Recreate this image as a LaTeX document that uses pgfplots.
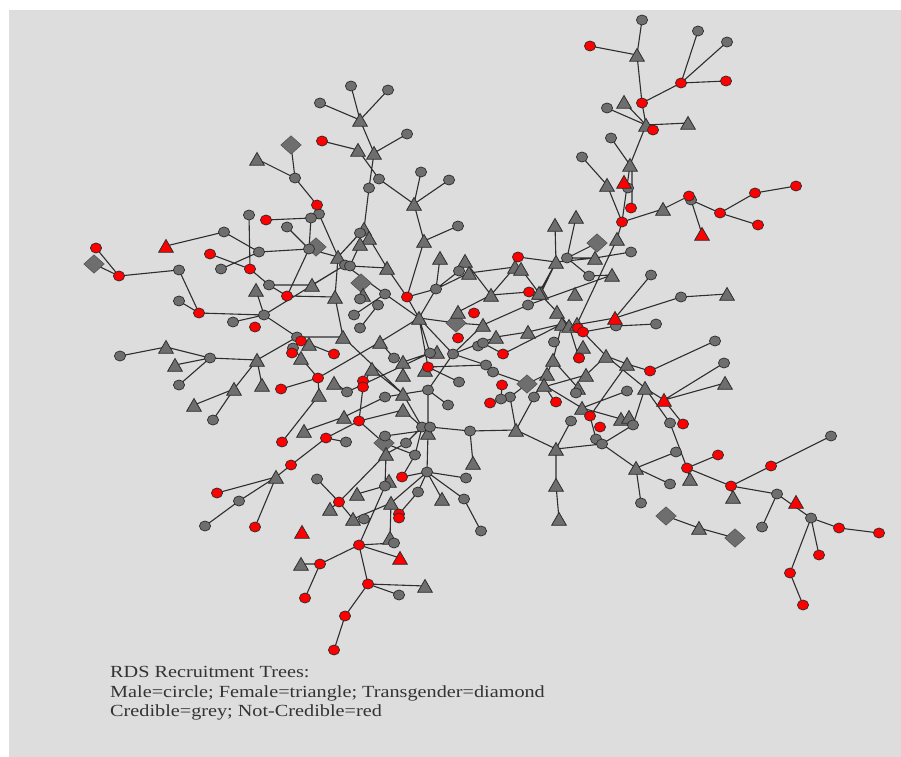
\documentclass[border=0pt]{standalone}
\usepackage{pgfplots}
\pgfplotsset{compat=1.18}
\usepackage{fontspec}
\setmainfont[FakeStretch=1.19]{Liberation Serif}
\definecolor{bgc}{HTML}{DDDDDD}
\definecolor{nodeg}{HTML}{6E6E6E}
\definecolor{edgec}{HTML}{2E2E2E}
\begin{document}
\begin{tikzpicture}
\begin{axis}[scale only axis, width=901bp, height=757bp, xmin=0, xmax=901, ymin=0, ymax=757,
  y dir=reverse, hide axis, clip=true, unbounded coords=jump]
\fill[white] (axis cs:0,0) rectangle (axis cs:901,757);
\fill[bgc] (axis cs:9,10) rectangle (axis cs:901,757);
% edges
\addplot[edgec, line width=1.1bp, no marks] coordinates {
(642,20)(637,55)(nan,nan) (590,46)(637,55)(nan,nan) (637,55)(642,103)(nan,nan) (642,103)(681,83)(nan,nan)
(681,83)(698,31)(nan,nan) (681,83)(727,42)(nan,nan) (681,83)(726,81)(nan,nan) (642,103)(646,125)(nan,nan)
(646,125)(624,102)(nan,nan) (646,125)(607,108)(nan,nan) (646,125)(688,123)(nan,nan) (646,125)(630,165)(nan,nan)
(630,165)(611,138)(nan,nan) (582,157)(607,185)(nan,nan) (607,185)(622,222)(nan,nan) (630,165)(622,222)(nan,nan)
(632,165)(632,208)(nan,nan) (622,222)(663,209)(nan,nan) (663,209)(689,196)(nan,nan) (691,200)(702,234)(nan,nan)
(691,200)(720,213)(nan,nan) (720,213)(755,193)(nan,nan) (755,193)(796,186)(nan,nan) (720,213)(758,225)(nan,nan)
(622,222)(617,239)(nan,nan) (617,239)(577,324)(nan,nan)
% upper left
(291,145)(295,178)(nan,nan) (257,159)(295,178)(nan,nan) (295,178)(317,205)(nan,nan) (317,205)(319,214)(nan,nan)
(266,220)(311,218)(nan,nan) (311,218)(309,249)(nan,nan) (319,214)(338,257)(nan,nan) (287,227)(309,249)(nan,nan)
(224,232)(166,246)(nan,nan) (224,232)(259,252)(nan,nan) (249,215)(250,269)(nan,nan) (259,252)(309,249)(nan,nan)
(309,249)(287,296)(nan,nan) (309,249)(338,257)(nan,nan) (210,254)(250,269)(nan,nan) (221,269)(259,252)(nan,nan)
(119,276)(96,248)(nan,nan) (119,276)(94,264)(nan,nan) (119,276)(179,270)(nan,nan) (179,270)(199,313)(nan,nan)
(250,269)(269,285)(nan,nan) (269,285)(287,296)(nan,nan) (269,285)(312,285)(nan,nan) (287,296)(335,297)(nan,nan)
(264,315)(345,265)(nan,nan) (312,285)(345,265)(nan,nan) (338,257)(335,297)(nan,nan) (179,301)(199,313)(nan,nan)
% top centre
(360,120)(351,86)(nan,nan) (360,120)(388,90)(nan,nan) (360,120)(320,103)(nan,nan) (360,120)(374,153)(nan,nan)
(322,141)(358,150)(nan,nan) (374,153)(407,134)(nan,nan) (374,153)(369,188)(nan,nan) (358,150)(379,179)(nan,nan)
(379,179)(414,204)(nan,nan) (414,204)(421,172)(nan,nan) (414,204)(449,180)(nan,nan) (414,204)(424,241)(nan,nan)
(424,241)(458,226)(nan,nan) (424,241)(407,297)(nan,nan) (369,188)(364,229)(nan,nan) (360,233)(338,257)(nan,nan)
(364,229)(338,257)(nan,nan) (360,244)(350,266)(nan,nan) (369,238)(387,268)(nan,nan) (350,266)(387,268)(nan,nan)
(387,268)(407,297)(nan,nan) (345,265)(385,294)(nan,nan) (385,294)(419,318)(nan,nan) (407,297)(436,289)(nan,nan)
(436,289)(459,271)(nan,nan) (436,289)(469,273)(nan,nan) (440,258)(436,289)(nan,nan) (469,273)(515,267)(nan,nan)
(465,261)(491,295)(nan,nan) (491,295)(515,267)(nan,nan) (491,295)(529,292)(nan,nan) (529,292)(539,293)(nan,nan)
(521,269)(539,293)(nan,nan) (539,293)(556,262)(nan,nan) (518,257)(556,262)(nan,nan) (555,225)(556,262)(nan,nan)
(576,217)(567,258)(nan,nan) (458,312)(491,295)(nan,nan) (407,297)(419,318)(nan,nan) (436,289)(419,318)(nan,nan)
(419,318)(456,323)(nan,nan) (456,323)(483,325)(nan,nan) (419,318)(380,342)(nan,nan) (419,318)(430,353)(nan,nan)
(419,318)(453,354)(nan,nan) (483,325)(453,354)(nan,nan) (483,325)(528,305)(nan,nan) (528,305)(612,275)(nan,nan)
(496,337)(528,332)(nan,nan) (528,332)(562,324)(nan,nan) (496,337)(453,354)(nan,nan) (503,354)(483,343)(nan,nan)
(503,354)(562,324)(nan,nan) (453,354)(486,365)(nan,nan) (486,365)(493,372)(nan,nan) (493,372)(527,384)(nan,nan)
(335,297)(343,337)(nan,nan) (343,337)(403,394)(nan,nan) (380,342)(318,378)(nan,nan) (380,342)(394,358)(nan,nan)
(354,315)(385,294)(nan,nan) (360,328)(378,305)(nan,nan) (419,318)(428,367)(nan,nan) (428,367)(486,365)(nan,nan)
(428,367)(459,382)(nan,nan) (453,354)(428,390)(nan,nan) (428,390)(403,394)(nan,nan) (428,390)(448,405)(nan,nan)
(428,390)(428,433)(nan,nan) (403,394)(385,397)(nan,nan) (403,394)(422,427)(nan,nan) (403,410)(422,427)(nan,nan) (363,387)(359,421)(nan,nan)
(359,421)(403,410)(nan,nan) (344,417)(385,397)(nan,nan) (403,362)(430,353)(nan,nan) (347,392)(430,353)(nan,nan)
(335,383)(347,392)(nan,nan) (372,369)(363,384)(nan,nan) (372,369)(403,394)(nan,nan) (403,362)(403,375)(nan,nan)
(510,397)(527,384)(nan,nan) (510,397)(516,430)(nan,nan) (534,397)(516,430)(nan,nan) (501,399)(490,403)(nan,nan)
(501,399)(502,385)(nan,nan) (343,337)(297,337)(nan,nan) (534,397)(547,374)(nan,nan) (547,374)(527,384)(nan,nan)
% left
(120,356)(166,347)(nan,nan) (166,347)(210,358)(nan,nan) (175,365)(210,358)(nan,nan) (179,385)(210,358)(nan,nan)
(210,358)(257,360)(nan,nan) (257,360)(234,389)(nan,nan) (257,360)(262,385)(nan,nan) (257,360)(297,337)(nan,nan)
(234,389)(194,405)(nan,nan) (234,389)(213,420)(nan,nan) (199,313)(264,315)(nan,nan) (233,322)(264,315)(nan,nan)
(264,315)(256,290)(nan,nan) (264,315)(297,337)(nan,nan) (297,337)(309,344)(nan,nan) (293,348)(301,358)(nan,nan)
(301,358)(318,378)(nan,nan) (309,344)(334,354)(nan,nan) (318,378)(319,395)(nan,nan) (281,389)(318,378)(nan,nan)
(319,395)(282,442)(nan,nan) (304,431)(344,417)(nan,nan) (326,438)(291,465)(nan,nan) (291,465)(276,477)(nan,nan)
(326,438)(359,421)(nan,nan) (326,438)(346,442)(nan,nan)
% lower centre
(276,477)(217,493)(nan,nan) (276,477)(239,501)(nan,nan) (239,501)(205,526)(nan,nan) (276,477)(255,527)(nan,nan)
(359,421)(384,443)(nan,nan) (384,443)(386,454)(nan,nan) (385,436)(428,430)(nan,nan) (386,454)(385,486)(nan,nan)
(386,454)(339,502)(nan,nan) (317,479)(339,502)(nan,nan) (339,502)(353,519)(nan,nan) (339,502)(330,509)(nan,nan)
(357,494)(385,486)(nan,nan) (385,486)(359,545)(nan,nan) (353,519)(391,503)(nan,nan) (391,503)(427,472)(nan,nan)
(391,503)(390,538)(nan,nan) (402,477)(427,472)(nan,nan) (427,472)(418,492)(nan,nan) (418,492)(399,514)(nan,nan)
(427,472)(442,499)(nan,nan) (427,472)(466,478)(nan,nan) (427,472)(464,499)(nan,nan) (464,499)(481,531)(nan,nan)
(427,472)(428,433)(nan,nan) (415,455)(402,477)(nan,nan) (415,455)(422,427)(nan,nan) (406,443)(422,427)(nan,nan)
(406,443)(386,454)(nan,nan) (384,443)(415,455)(nan,nan) (430,427)(470,431)(nan,nan) (470,431)(516,430)(nan,nan)
(470,431)(473,463)(nan,nan) (359,545)(394,543)(nan,nan) (359,545)(400,558)(nan,nan) (359,545)(320,564)(nan,nan)
(320,564)(301,564)(nan,nan) (320,564)(305,598)(nan,nan) (359,545)(368,584)(nan,nan) (368,584)(425,586)(nan,nan)
(368,584)(399,595)(nan,nan) (368,584)(345,616)(nan,nan) (345,616)(334,650)(nan,nan)
% right
(567,258)(597,243)(nan,nan) (567,258)(595,258)(nan,nan) (595,258)(631,252)(nan,nan) (556,262)(595,258)(nan,nan)
(567,258)(589,276)(nan,nan) (589,276)(612,275)(nan,nan) (556,262)(541,293)(nan,nan) (539,293)(557,312)(nan,nan)
(557,312)(569,326)(nan,nan) (569,326)(615,318)(nan,nan) (583,332)(616,326)(nan,nan) (615,318)(651,275)(nan,nan)
(615,318)(681,297)(nan,nan) (681,297)(727,294)(nan,nan) (616,326)(656,324)(nan,nan) (583,332)(606,356)(nan,nan)
(606,356)(627,364)(nan,nan) (627,364)(650,371)(nan,nan) (650,371)(715,341)(nan,nan) (606,356)(586,375)(nan,nan)
(627,364)(590,416)(nan,nan) (606,356)(645,388)(nan,nan) (645,388)(664,400)(nan,nan) (664,400)(724,363)(nan,nan)
(664,400)(725,383)(nan,nan) (664,400)(683,424)(nan,nan) (645,388)(633,425)(nan,nan) (645,388)(670,423)(nan,nan)
(670,423)(687,468)(nan,nan) (569,326)(579,358)(nan,nan) (553,360)(578,388)(nan,nan) (586,375)(547,386)(nan,nan)
(562,324)(553,360)(nan,nan) (553,360)(547,374)(nan,nan) (547,374)(544,385)(nan,nan) (555,402)(544,385)(nan,nan)
(544,385)(582,408)(nan,nan) (582,408)(627,391)(nan,nan) (582,408)(621,419)(nan,nan) (582,408)(590,416)(nan,nan)
(590,416)(596,439)(nan,nan) (633,425)(602,444)(nan,nan) (571,421)(556,449)(nan,nan) (516,430)(556,449)(nan,nan)
(556,449)(602,444)(nan,nan) (556,449)(556,485)(nan,nan) (556,485)(559,519)(nan,nan) (602,444)(636,468)(nan,nan)
(636,468)(676,452)(nan,nan) (636,468)(670,484)(nan,nan) (636,468)(641,503)(nan,nan) (687,468)(718,455)(nan,nan)
(687,468)(731,486)(nan,nan) (731,486)(771,466)(nan,nan) (771,466)(831,436)(nan,nan) (731,486)(777,494)(nan,nan)
(731,486)(733,497)(nan,nan) (687,468)(690,479)(nan,nan) (777,494)(811,518)(nan,nan) (777,494)(762,527)(nan,nan)
(811,518)(839,528)(nan,nan) (839,528)(879,533)(nan,nan) (811,518)(819,555)(nan,nan) (811,518)(790,573)(nan,nan)
(790,573)(803,605)(nan,nan) (666,516)(699,528)(nan,nan) (699,528)(735,538)(nan,nan)
};
% grey diamonds
\addplot[only marks, mark=square*, mark size=7.2bp, mark options={fill=nodeg, draw=nodeg!70!black, line width=0.5bp, yscale=.9, rotate=45}] coordinates {
(291,145)(94,264)(316,247)(597,243)(361,283)(456,323)(527,384)(384,443)(666,516)(735,538)};
% grey triangles
\addplot[only marks, mark=triangle*, mark size=8.5bp, mark options={fill=nodeg, draw=edgec, line width=0.8bp, yshift=-2bp}] coordinates {
(637,55)(624,102)(646,125)(688,123)(630,165)(607,185)(663,209)(576,217)(555,225)(617,239)(556,262)(595,258)(612,275)(727,294)(575,294)(541,293)(557,312)(562,324)(569,326)(577,324)(583,347)(606,356)(627,364)(725,383)(586,375)(553,360)(547,374)(544,385)(578,388)(645,388)(582,408)(621,419)(629,417)(556,449)(556,485)(559,519)(636,468)(690,479)(733,497)(699,528)(516,430)(473,463)(360,120)(358,150)(374,153)(414,204)(424,241)(257,159)(364,229)(369,238)(360,244)(338,257)(387,268)(440,258)(465,261)(469,273)(491,295)(515,267)(521,269)(539,293)(312,285)(256,290)(335,297)(363,295)(458,312)(419,318)(483,325)(528,332)(496,337)(343,337)(380,342)(437,352)(309,344)(301,358)(403,362)(334,383)(319,395)(372,369)(425,370)(403,375)(403,394)(403,410)(344,417)(304,431)(428,433)(386,454)(276,477)(389,481)(166,347)(175,365)(257,360)(262,385)(234,389)(194,405)(357,494)(442,499)(330,509)(391,503)(353,519)(390,538)(301,564)(425,586)};
% grey circles
\addplot[only marks, mark=*, mark size=5.6bp, mark options={fill=nodeg, draw=edgec, line width=0.7bp, yscale=.9}] coordinates {
(642,20)(698,31)(727,42)(607,108)(611,138)(582,157)(628,188)(691,200)(631,252)(651,275)(681,297)(616,326)(656,324)(715,341)(724,363)(589,276)(567,258)(579,358)(554,342)(576,393)(627,391)(571,421)(633,425)(670,423)(596,439)(602,444)(676,452)(670,484)(641,503)(831,436)(777,494)(811,518)(762,527)(528,305)(351,86)(388,90)(320,103)(407,134)(379,179)(369,188)(421,172)(449,180)(458,226)(295,178)(319,214)(311,218)(249,215)(287,227)(224,232)(179,270)(221,269)(259,252)(309,249)(345,265)(350,266)(360,233)(459,271)(436,289)(269,285)(179,301)(233,322)(264,315)(297,337)(293,348)(120,356)(210,358)(179,385)(213,420)(385,294)(360,299)(378,305)(354,315)(360,328)(478,346)(483,343)(453,354)(430,353)(394,358)(486,365)(493,372)(459,382)(347,392)(385,397)(428,390)(510,397)(501,399)(534,397)(448,405)(422,427)(430,427)(470,431)(385,436)(346,442)(406,443)(415,455)(427,472)(466,478)(317,479)(385,486)(418,492)(464,499)(239,501)(364,519)(481,531)(205,526)(394,543)(399,595)};
% red triangles
\addplot[only marks, mark=triangle*, mark size=8.5bp, mark options={fill=red, draw=edgec, line width=0.8bp, yshift=-2bp}] coordinates {
(624,182)(702,234)(166,246)(615,318)(664,400)(796,502)(302,532)(400,558)};
% red circles
\addplot[only marks, mark=*, mark size=5.6bp, mark options={fill=red, draw=edgec, line width=0.7bp, yscale=.9}] coordinates {
(590,46)(726,81)(681,83)(642,103)(653,130)(631,208)(622,222)(689,196)(720,213)(755,193)(796,186)(758,225)(322,141)(317,205)(266,220)(96,248)(119,276)(210,254)(250,269)(287,296)(199,313)(255,327)(301,341)(292,353)(334,354)(318,378)(281,389)(282,442)(326,438)(291,465)(217,493)(255,527)(339,502)(407,297)(518,257)(529,292)(474,313)(458,338)(503,354)(428,367)(502,385)(363,381)(363,387)(359,421)(490,403)(556,402)(578,328)(583,332)(579,358)(650,371)(590,416)(600,427)(683,424)(718,455)(687,468)(771,466)(731,486)(839,528)(879,533)(819,555)(790,573)(803,605)(402,477)(399,514)(399,518)(359,545)(320,564)(305,598)(368,584)(345,616)(334,650)};
\node[anchor=west, text=black!80, font=\fontsize{17bp}{19.5bp}\selectfont, align=left, inner sep=0pt] at (axis cs:110,693.5) {RDS Recruitment Trees:\\Male=circle; Female=triangle; Transgender=diamond\\Credible=grey; Not-Credible=red};
\end{axis}
\end{tikzpicture}
\end{document}
